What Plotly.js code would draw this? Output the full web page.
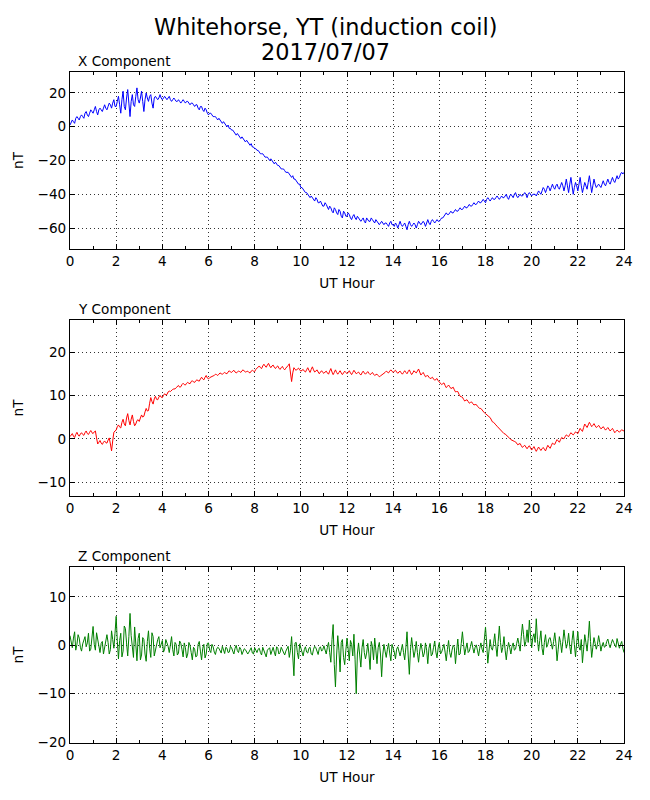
<!DOCTYPE html>
<html>
<head>
<meta charset="utf-8">
<script src="https://cdn.plot.ly/plotly-3.0.1.min.js"></script>
<style>
  html, body { margin: 0; padding: 0; background: #ffffff; }
  #chart { width: 650px; height: 800px; }
</style>
</head>
<body>
<div id="chart"></div>
<script>
// UT hour sample grid (0.1 h steps, 0..24)
const hours = Array.from({length: 241}, (_, i) => i / 10);

// X component (nT)
const xComponent = [
  1,4,2,6,4,7,5,9,6,10,
  8,12,7,11,9,13,10,14,11,16,
  12,18,8,21,10,22,6,19,12,23,
  14,21,9,20,15,19,11,18,16,19,
  16,18,16,18,15,17,15,16,14,16,
  14,15,13,14,12,13,10,12,9,10,
  7,8,6,6,4,4,2,2,0,-1,
  -2,-3,-5,-5,-7,-7,-9,-9,-11,-12,
  -13,-14,-15,-16,-17,-18,-19,-19,-21,-21,
  -23,-24,-25,-26,-27,-28,-30,-31,-32,-34,
  -36,-37,-39,-40,-42,-42,-44,-43,-45,-46,
  -47,-46,-49,-48,-51,-49,-52,-50,-54,-51,
  -53,-52,-55,-52,-55,-54,-56,-54,-57,-55,
  -56,-55,-57,-56,-58,-56,-58,-57,-59,-56,
  -58,-57,-60,-56,-59,-57,-61,-56,-59,-57,
  -60,-56,-58,-56,-59,-55,-58,-55,-57,-55,
  -56,-54,-53,-51,-52,-50,-51,-49,-50,-48,
  -49,-47,-48,-46,-47,-45,-46,-44,-45,-43,
  -45,-42,-44,-42,-43,-41,-43,-41,-42,-40,
  -43,-40,-42,-39,-42,-40,-41,-39,-42,-39,
  -41,-40,-41,-38,-40,-36,-39,-35,-38,-34,
  -37,-34,-37,-33,-38,-31,-39,-30,-40,-33,
  -38,-30,-39,-33,-37,-29,-39,-31,-36,-34,
  -36,-32,-35,-31,-34,-30,-33,-29,-30,-27,
  -27
];

// X component between the samples above (hours 0.05, 0.15, ...)
const xComponentMid = [
  3,3,5,5,6,6,8,7,8,9,
  10,9,10,10,11,11,12,13,14,12,
  15,13,16,12,17,14,15,13,18,16,
  17,15,16,17,18,14,17,17,17,17,
  17,17,17,16,16,16,15,15,15,15,
  15,14,14,13,13,11,12,10,11,8,
  8,7,6,5,5,3,3,1,1,-1,
  -2,-4,-4,-6,-6,-8,-8,-10,-10,-12,
  -13,-14,-16,-16,-18,-18,-20,-20,-22,-22,
  -23,-25,-25,-27,-27,-29,-29,-31,-33,-34,
  -36,-38,-39,-41,-41,-43,-42,-45,-44,-47,
  -45,-48,-47,-50,-48,-51,-49,-53,-50,-53,
  -51,-54,-53,-54,-53,-55,-55,-56,-54,-56,
  -54,-56,-55,-57,-57,-57,-57,-58,-57,-58,
  -59,-58,-58,-58,-58,-59,-58,-58,-58,-58,
  -58,-57,-57,-57,-57,-57,-56,-56,-56,-56,
  -55,-54,-52,-52,-51,-51,-50,-50,-49,-49,
  -48,-48,-47,-47,-46,-46,-45,-45,-44,-44,
  -43,-43,-43,-43,-42,-42,-42,-42,-41,-42,
  -41,-41,-40,-41,-41,-41,-40,-40,-40,-40,
  -40,-40,-39,-39,-38,-37,-37,-36,-36,-36,
  -35,-36,-35,-35,-35,-35,-34,-35,-36,-35,
  -34,-35,-36,-35,-33,-34,-35,-34,-35,-35,
  -34,-34,-33,-33,-32,-32,-31,-31,-28,-28
];

// Y component (nT)
const yComponent = [
  0.5,1.2,0.3,1.5,0.6,1.4,0.8,1.8,1.0,1.9,
  1.2,1.8,-1.2,-0.4,-1.3,-0.5,-1.0,0.2,-2.8,1.5,
  2.0,3.2,2.5,4.5,3.0,5.8,3.2,5.5,3.0,4.2,
  4.0,5.5,5.2,7.0,6.5,9.5,8.0,9.8,9.0,10.0,
  9.5,10.4,10.2,11.0,11.2,11.5,11.8,12.3,12.0,12.8,
  12.4,13.0,12.7,13.4,13.0,13.6,13.3,14.2,13.6,14.6,
  13.8,14.3,14.5,14.9,14.6,15.2,14.9,15.3,15.0,15.7,
  15.3,15.8,15.2,15.6,15.3,15.9,15.4,15.6,15.2,15.8,
  15.5,16.3,16.8,16.2,17.2,16.5,17.4,16.4,17.0,16.2,
  16.8,16.0,16.7,15.9,16.5,17.3,13.2,16.4,15.8,16.3,
  15.6,16.0,15.4,16.4,15.3,16.6,15.4,15.9,15.0,15.7,
  15.1,15.6,14.9,16.2,14.8,15.9,14.9,15.7,14.8,15.6,
  15.0,15.7,14.8,15.8,15.0,15.4,14.7,15.6,14.9,15.5,
  14.8,15.3,14.6,14.9,14.3,14.7,14.9,15.6,15.2,15.9,
  15.3,15.8,15.1,15.6,14.9,15.7,15.0,15.9,14.8,15.7,
  15.2,16.1,14.7,15.3,14.3,14.6,13.9,14.2,13.5,13.9,
  13.0,12.5,12.9,11.8,12.4,11.6,11.9,10.8,10.9,9.8,
  9.6,8.7,9.0,8.2,8.5,7.8,7.9,7.1,7.0,6.2,
  5.8,5.3,4.9,3.9,3.6,2.9,2.3,1.8,1.2,0.9,
  0.4,-0.2,-0.6,-0.7,-1.4,-1.1,-2.0,-1.5,-2.3,-1.6,
  -2.6,-1.8,-2.9,-1.9,-2.7,-2.0,-2.8,-1.5,-2.2,-1.0,
  -1.3,-0.2,-0.8,0.3,0.0,0.9,0.5,1.4,0.9,1.6,
  1.2,2.4,1.7,3.4,2.6,3.8,2.8,3.5,2.6,3.1,
  2.3,2.8,2.0,2.6,1.8,2.4,1.4,2.0,1.5,2.1,
  1.8
];

// Y component between the samples above
const yComponentMid = [
  0.9,0.6,1.0,0.9,1.1,1.0,1.4,1.2,1.5,1.4,
  1.6,0.2,-0.8,-1.0,-0.8,-0.9,-0.3,-1.2,-0.5,1.8,
  2.8,2.7,3.8,3.4,4.8,4.2,4.5,4.0,3.4,4.4,
  4.8,5.0,6.2,6.4,8.2,8.6,9.2,9.1,9.6,9.6,
  10.0,10.1,10.8,10.9,11.4,11.5,12.0,11.9,12.5,12.5,
  12.8,12.8,13.2,13.1,13.4,13.4,13.8,13.8,14.2,14.0,
  14.1,14.5,14.6,14.8,14.9,15.0,15.1,15.1,15.4,15.4,
  15.6,15.4,15.4,15.5,15.7,15.6,15.5,15.3,15.6,15.6,
  16.0,16.5,16.4,16.8,16.8,17.0,16.8,16.8,16.5,16.6,
  16.3,16.4,16.2,16.3,16.9,15.0,15.2,16.0,16.1,15.9,
  15.8,15.6,15.9,15.8,16.0,15.9,15.6,15.4,15.4,15.3,
  15.4,15.2,15.6,15.4,15.3,15.3,15.3,15.2,15.2,15.3,
  15.3,15.2,15.3,15.4,15.2,15.0,15.2,15.2,15.2,15.1,
  15.0,14.9,14.8,14.6,14.5,14.9,15.3,15.4,15.6,15.6,
  15.6,15.4,15.4,15.2,15.3,15.3,15.5,15.3,15.2,15.4,
  15.6,15.4,15.0,14.8,14.5,14.2,14.0,13.8,13.7,13.4,
  12.8,12.7,12.3,12.1,12.0,11.7,11.3,10.9,10.3,9.7,
  9.1,8.9,8.6,8.4,8.1,7.9,7.5,7.0,6.6,6.0,
  5.5,5.1,4.4,3.8,3.2,2.6,2.1,1.5,1.1,0.6,
  0.1,-0.4,-0.6,-1.0,-1.2,-1.6,-1.7,-1.9,-1.9,-2.1,
  -2.2,-2.4,-2.4,-2.3,-2.3,-2.4,-2.1,-1.9,-1.6,-1.2,
  -0.7,-0.5,-0.2,0.1,0.5,0.7,1.0,1.1,1.2,1.4,
  1.8,2.0,2.6,3.0,3.2,3.3,3.1,3.0,2.8,2.7,
  2.5,2.4,2.3,2.2,2.1,1.9,1.7,1.8,1.8,1.9
];

// Z component (nT)
const zComponent = [
  2.0,-0.5,2.8,0.2,1.5,-1.2,1.0,-0.3,2.5,-0.8,
  3.9,-1.0,1.2,-1.5,0.8,-0.5,2.2,-1.8,3.0,-0.6,
  6.0,-2.8,2.5,-1.2,3.5,-2.2,6.6,-0.8,3.8,-3.2,
  2.5,-2.0,1.2,-3.3,3.0,-2.5,1.8,-1.0,1.2,-0.5,
  1.0,-0.8,0.6,-1.5,1.8,-2.2,0.2,-1.6,0.4,-2.4,
  -0.5,-1.8,0.0,-3.0,-0.8,-2.2,0.8,-3.0,0.2,-1.8,
  0.5,-1.5,-0.3,-1.9,-0.4,-1.2,-0.2,-1.7,-0.6,-1.4,
  -0.5,-1.8,0.0,-1.5,-0.8,-1.3,-0.9,-1.8,-1.0,-1.6,
  -0.5,-1.5,-0.6,-2.0,-1.0,-2.4,-0.8,-1.9,-0.4,-2.2,
  -0.6,-1.5,-0.9,-2.0,-0.5,-2.5,1.8,-6.3,0.6,-2.8,
  -0.5,-2.2,-0.3,-1.6,-0.4,-2.0,-0.2,-1.5,-0.6,-1.2,
  -0.1,-1.8,0.6,-3.5,4.3,-8.6,2.0,-5.5,1.2,-4.0,
  1.5,-3.2,0.2,2.3,-10.0,0.5,-4.5,1.2,-2.8,0.4,
  -5.0,-0.2,1.5,-3.8,0.6,-6.5,0.2,-2.5,0.4,-3.2,
  -0.5,-2.8,-0.3,-2.2,0.2,-3.0,2.8,-6.0,1.6,-2.5,
  0.8,-3.5,0.4,-2.4,0.5,-3.8,0.4,-1.8,0.9,-2.6,
  0.6,-1.4,0.2,-3.2,1.0,-2.5,0.0,-3.8,1.3,-1.8,
  2.8,-2.0,0.5,-1.2,0.8,-1.6,0.1,-2.2,0.5,-1.5,
  3.8,-3.7,1.2,-1.0,2.4,-2.3,4.0,-1.5,1.8,-3.0,
  0.6,-1.8,0.5,-0.8,1.5,-1.2,4.4,-0.2,3.2,5.2,
  -0.5,2.4,5.5,-1.2,3.0,-2.0,2.2,0.2,1.6,-0.8,
  2.6,-3.2,1.8,-1.5,3.2,-0.6,2.5,-1.8,3.0,-2.4,
  2.8,-1.0,-3.6,2.2,-1.2,5.0,-2.5,1.6,-0.8,2.0,
  -1.2,0.6,-0.2,1.3,-0.5,1.2,0.0,1.4,-0.6,0.8,
  -1.5
];

// Z component between the samples above
const zComponentMid = [
  0.8,1.5,-1.0,2.2,-0.4,0.3,1.8,0.5,-1.2,1.6,
  0.2,2.6,-0.7,0.4,-1.8,1.4,0.6,-0.9,1.2,2.5,
  0.8,1.0,-2.4,4.0,0.5,1.8,2.0,-2.5,0.6,1.4,
  -3.0,1.6,-1.8,0.8,-0.6,2.6,-2.2,0.4,1.8,0.2,
  -1.4,1.2,-0.2,0.8,-0.9,0.6,-2.0,0.9,-0.8,0.5,
  -2.6,0.6,-1.5,-0.4,-2.4,0.2,-1.2,-0.6,-2.6,0.4,
  -1.0,0.2,-1.4,-0.8,-0.6,-1.6,-0.8,-0.4,-1.5,-0.2,
  -1.2,-0.6,-1.1,-0.4,-1.9,-0.7,-1.3,-1.4,-0.5,-1.8,
  -1.1,-0.8,-1.5,-0.4,-1.7,-1.0,-0.5,-1.2,-1.4,-0.3,
  -1.8,-0.4,-1.7,-1.2,-0.2,-1.0,-2.2,0.5,-1.5,0.3,
  -1.6,-0.9,-1.4,-0.6,-1.8,-0.8,-0.5,-1.9,-0.3,-0.9,
  -1.2,-0.4,-1.5,1.2,-4.0,-2.0,-1.0,0.6,-2.5,-1.0,
  -0.8,1.0,-2.2,-3.0,-1.8,-2.0,-0.5,-1.5,-1.6,-1.8,
  0.8,-3.0,-1.0,-0.5,-1.8,-2.0,-1.2,-0.8,-1.6,0.2,
  -1.4,-0.8,-1.6,-1.0,-1.5,-0.4,-2.0,-1.0,-0.6,-1.2,
  -1.5,-1.2,-0.8,-1.6,-1.0,-0.6,-2.2,-0.4,-1.4,-0.5,
  -1.8,-0.6,-1.4,-0.9,-1.5,-1.0,-0.4,-1.0,-2.0,0.4,
  0.2,-0.6,-1.5,-0.2,-0.5,-0.4,-1.0,-0.6,-0.8,1.2,
  0.5,-1.2,-0.5,0.4,-0.2,0.8,0.6,-0.4,-1.0,-0.8,
  -0.5,-0.2,-1.0,0.4,0.2,1.8,2.2,0.8,0.6,2.0,
  1.6,0.6,1.2,1.0,-0.6,0.6,-0.4,1.4,0.4,0.8,
  0.4,-0.8,0.6,0.8,1.2,0.4,-0.2,1.0,0.2,0.6,
  -0.4,1.2,-0.8,0.6,1.4,0.8,-0.4,0.4,0.2,0.6,
  0.0,-0.4,0.8,0.2,0.4,0.6,-0.4,0.6,0.2,-0.6
];

const xTickVals = [0,2,4,6,8,10,12,14,16,18,20,22,24];
const panelTitles = ['X Component', 'Y Component', 'Z Component'];
const titleLines = ['Whitehorse, YT (induction coil)', '2017/07/07'];
const yTicksX = [-60,-40,-20,0,20];
const yTicksY = [-10,0,10,20];
const yTicksZ = [-20,-10,0,10];

const FONT = 'DejaVu Sans, sans-serif';
const FS = 13.6;

// interleave the main samples and the in-between samples on a 0.05 h grid
function interleave(main, mid) {
  const xs = [], ys = [];
  for (let i = 0; i < main.length; i++) {
    xs.push(hours[i]); ys.push(main[i]);
    if (i < mid.length) { xs.push(hours[i] + 0.05); ys.push(mid[i]); }
  }
  return {xs, ys};
}

function lineTrace(main, mid, color, xa, ya) {
  const s = interleave(main, mid);
  return {
    x: s.xs, y: s.ys, xaxis: xa, yaxis: ya,
    type: 'scatter', mode: 'lines',
    line: {color: color, width: 1},
    hoverinfo: 'skip', showlegend: false
  };
}

const data = [
  lineTrace(xComponent, xComponentMid, '#0000ff', 'x', 'y'),
  lineTrace(yComponent, yComponentMid, '#ff0000', 'x2', 'y2'),
  lineTrace(zComponent, zComponentMid, '#008000', 'x3', 'y3')
];

function xAxis(anchor) {
  return {
    anchor: anchor, domain: [0, 1], range: [0, 24],
    tickvals: xTickVals, ticktext: xTickVals.map(String),
    ticks: 'inside', ticklen: 5, tickcolor: '#000', tickwidth: 1,
    minor: {dtick: 1, ticks: 'inside', ticklen: 3, tickcolor: '#000', showgrid: false},
    showline: true, linecolor: '#000', linewidth: 1, mirror: 'allticks',
    showgrid: true, gridcolor: '#000', gridwidth: 0.8, griddash: '1px,3px',
    zeroline: false,
    tickfont: {family: FONT, size: FS, color: '#000'},
    title: {text: 'UT Hour', font: {family: FONT, size: FS, color: '#000'}, standoff: 10}
  };
}

function yAxis(anchor, domain, range, ticks) {
  return {
    anchor: anchor, domain: domain, range: range,
    tickvals: ticks, ticks: 'inside', ticklen: 5, tickcolor: '#000', tickwidth: 1,
    showline: true, linecolor: '#000', linewidth: 1, mirror: 'ticks',
    showgrid: true, gridcolor: '#000', gridwidth: 0.8, griddash: '1px,3px',
    zeroline: false,
    tickfont: {family: FONT, size: FS, color: '#000'},
    title: {text: 'nT', font: {family: FONT, size: FS, color: '#000'}, standoff: 10}
  };
}

const annotations = panelTitles.map((t, i) => ({
  text: t, xref: (i === 0 ? 'x' : 'x' + (i + 1)) + ' domain',
  yref: (i === 0 ? 'y' : 'y' + (i + 1)) + ' domain',
  x: 0, y: 1, xanchor: 'left', yanchor: 'bottom',
  xshift: 6, yshift: 1, showarrow: false,
  font: {family: FONT, size: FS, color: '#000'}
}));

// figure title: two centred lines, centred on the whole figure
const plotLeft = 70, plotWidth = 554, plotBottom = 743, plotHeight = 671;
[27, 52].forEach((py, i) => {
  annotations.push({
    text: titleLines[i], xref: 'paper', yref: 'paper',
    x: (325 - plotLeft) / plotWidth, y: (plotBottom - py) / plotHeight,
    xanchor: 'center', yanchor: 'middle', showarrow: false,
    font: {family: FONT, size: 22.4, color: '#000'}
  });
});

const layout = {
  width: 650, height: 800,
  margin: {l: 70, r: 26, t: 72, b: 57},
  paper_bgcolor: '#ffffff', plot_bgcolor: '#ffffff',
  font: {family: FONT, color: '#000'},
  xaxis: xAxis('y'),
  yaxis: yAxis('x', [0.7362, 1], [-72.4, 32.4], yTicksX),
  xaxis2: xAxis('y2'),
  yaxis2: yAxis('x2', [0.3681, 0.6304], [-13.2, 27.4], yTicksY),
  xaxis3: xAxis('y3'),
  yaxis3: yAxis('x3', [0, 0.2623], [-20.2, 16.2], yTicksZ),
  annotations: annotations
};

Plotly.newPlot('chart', data, layout, {staticPlot: true, displayModeBar: false});
</script>
</body>
</html>
